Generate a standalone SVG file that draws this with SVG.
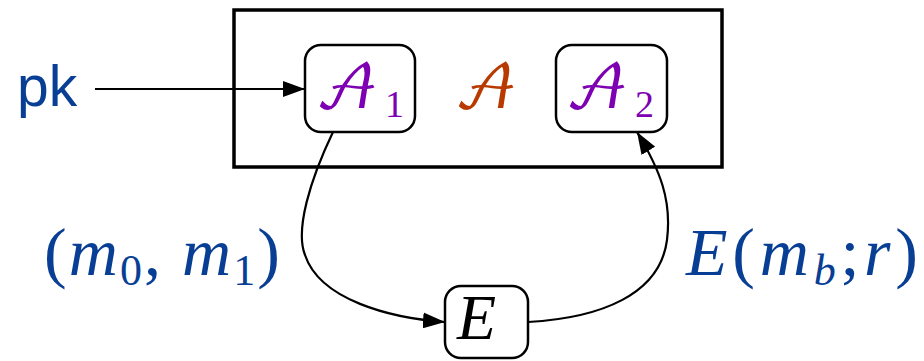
<svg xmlns="http://www.w3.org/2000/svg" width="924" height="361" viewBox="0 0 924 361">
<style>
.box{fill:#fff;stroke:#000;stroke-width:2.5}
.edge{fill:none;stroke:#000;stroke-width:2.2}
.math{font-family:"Liberation Serif","DejaVu Serif",serif;font-style:italic}
.up{font-family:"Liberation Serif","DejaVu Serif",serif;font-style:normal}
.cal{font-family:"DejaVu Math TeX Gyre","Noto Sans Math","DejaVu Serif",serif;font-style:normal}
.blue{fill:#083e94}
.purple{fill:#7d00b3}
</style>
<defs>
<marker id="ahb" viewBox="0 0 22 16" refX="22" refY="8" markerWidth="22" markerHeight="16" markerUnits="userSpaceOnUse" orient="auto">
<path d="M0,0 L22,8 L0,16 z" fill="#000"/>
</marker>
</defs>
<g id="outer">
<rect x="234" y="10" width="488" height="157" fill="none" stroke="#000" stroke-width="3.5"/>
<text x="454" y="108" class="cal" font-size="60" fill="#b83a00">𝒜</text>
</g>
<g id="pk">
<text x="17" y="106" font-family="Liberation Sans, Arial, sans-serif" font-size="57" class="blue">pk</text>
</g>
<g id="A1">
<rect x="305" y="45" width="110" height="87" rx="16" class="box"/>
<text x="315" y="108" class="cal purple" font-size="60">𝒜</text>
<text x="385" y="117" class="up purple" font-size="38">1</text>
</g>
<g id="A2">
<rect x="556" y="45" width="111" height="87" rx="16" class="box"/>
<text x="565" y="108" class="cal purple" font-size="60">𝒜</text>
<text x="635" y="117" class="up purple" font-size="38">2</text>
</g>
<g id="E">
<rect x="445" y="286" width="83" height="72" rx="16" class="box"/>
<text x="457" y="339" class="math" font-size="64">E</text>
</g>
<g id="labels">
<text x="44" y="275" class="blue" font-size="68" textLength="236" lengthAdjust="spacing"><tspan class="up">(</tspan><tspan class="math">m</tspan><tspan class="up" font-size="44" dy="10">0</tspan><tspan class="up" dy="-10">, </tspan><tspan class="math">m</tspan><tspan class="up" font-size="44" dy="10">1</tspan><tspan class="up" dy="-10">)</tspan></text>
<text x="686" y="275" class="blue" font-size="68" textLength="232" lengthAdjust="spacing"><tspan class="math">E</tspan><tspan class="up">(</tspan><tspan class="math">m</tspan><tspan class="math" font-size="44" dy="10">b</tspan><tspan class="up" dy="-10">;</tspan><tspan class="math">r</tspan><tspan class="up">)</tspan></text>
</g>
<g id="connectors">
<path d="M95,89 L305,89" class="edge" marker-end="url(#ahb)"/>
<path d="M333,132 C310,180 295,230 305,255 C320,300 390,318 445,322" class="edge" marker-end="url(#ahb)"/>
<path d="M528,322 C600,318 660,295 667,240 C672,200 660,170 637,132" class="edge" marker-end="url(#ahb)"/>
</g>
</svg>
